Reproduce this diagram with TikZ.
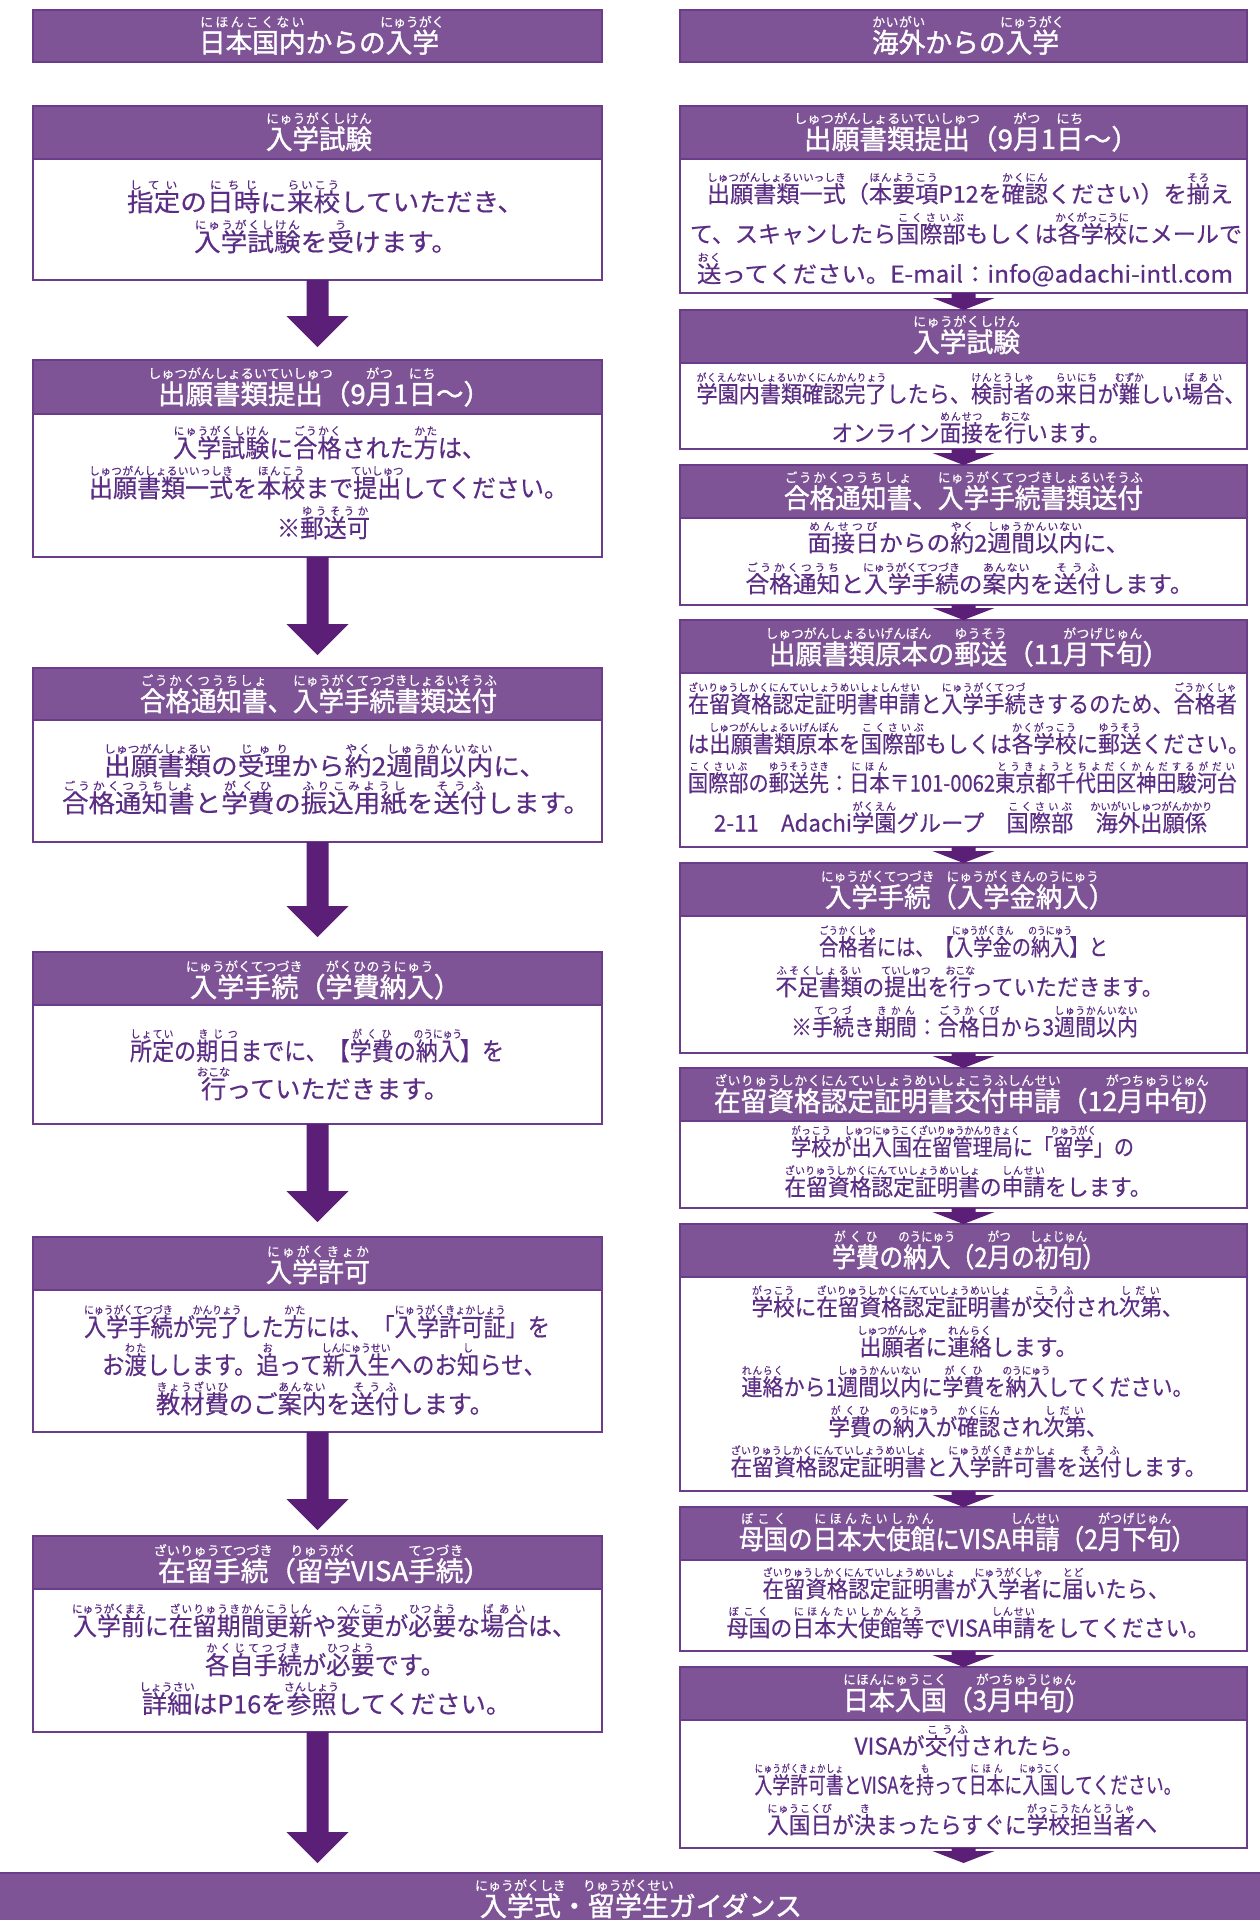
\documentclass[tikz,border=0pt]{standalone}
\usepackage{fontspec}
\usepackage{graphicx}
\setmainfont{Noto Sans CJK JP}[FakeBold=0.4, BoldFont=Noto Sans CJK JP, BoldFeatures={FakeBold=1.4}]
\usetikzlibrary{calc}
\definecolor{hdr}{HTML}{7F5497}
\definecolor{bdr}{HTML}{6B3C8A}
\definecolor{arr}{HTML}{5B1F78}
\definecolor{txt}{HTML}{5C2D84}
\newbox\rbbase \newbox\rbtop \newbox\fitbox
\def\rubysz{10}\def\rubyrs{0.9}
\def\rbend{}
\def\rbspread#1{\rbloop#1\rbend}
\def\rbloop#1{\ifx#1\rbend\else\hfil#1\hfil\expandafter\rbloop\fi}
\newcommand\rb[2]{\leavevmode\setbox\rbbase\hbox{#1}%
 \setbox\rbtop\hbox{\fontsize{\rubysz}{\rubysz}\selectfont\mdseries #2}%
 \ifdim\wd\rbtop<\wd\rbbase
 \setbox\rbtop\hbox to\wd\rbbase{\fontsize{\rubysz}{\rubysz}\selectfont\mdseries\rbspread{#2}}\fi
 \rlap{\raisebox{\rubyrs em}[0pt][0pt]{\hbox to\wd\rbbase{\hss\box\rbtop\hss}}}\box\rbbase}
\newcommand\fitline[2]{\setbox\fitbox\hbox{#2}\edef\fitw{\the\wd\fitbox}%
 \pgfmathsetmacro\fitr{#1/\fitw}\scalebox{\fitr}[1]{\box\fitbox}}
% x, ycenter, width, size, rubysize, rubyraise, colour, text
\newcommand\Tx[8]{\node[inner sep=0,outer sep=0,anchor=base,text=#7] at (#1,{#2+0.37*#4})
 {\fontsize{#4}{#4}\selectfont\def\rubysz{#5}\def\rubyrs{#6}\fitline{#3}{#8}};}
\newcommand\Hd[4]{\Tx{#1}{#2}{#3}{27}{13}{0.95}{white}{\bfseries #4}}
\newcommand\Bl[4]{\Tx{#1}{#2}{#3}{25}{11}{0.89}{txt}{#4}}
\newcommand\Br[4]{\Tx{#1}{#2}{#3}{23}{10.5}{0.92}{txt}{#4}}
\newcommand\PBox[6]{%
 \node[pbox,minimum width={#3-#2},minimum height={#6-#4}] (#1) at ({(#2+#3)/2},{(#4+#6)/2}) {};
 \node[phead,minimum width={#3-#2},minimum height={#5-#4}] (#1h) at ({(#2+#3)/2},{(#4+#5)/2}) {};}
% from, to, gap, headlen, stemhalf, headhalf
\newcommand\BArrow[6]{\fill[arr] let \p1=(#1.south), \p2=(#2.north) in
 (\x1-#5pt,\y1) -- (\x1-#5pt,\y2+#3pt+#4pt) -- (\x1-#6pt,\y2+#3pt+#4pt) -- (\x1,\y2+#3pt)
 -- (\x1+#6pt,\y2+#3pt+#4pt) -- (\x1+#5pt,\y2+#3pt+#4pt) -- (\x1+#5pt,\y1) -- cycle;}
\begin{document}
\begin{tikzpicture}[x=1pt,y=-1pt,
 pbox/.style={draw=bdr,line width=2pt,fill=white,inner sep=0,outer sep=0},
 phead/.style={draw=bdr,line width=2pt,fill=hdr,inner sep=0,outer sep=0}]
\useasboundingbox (0,0) rectangle (1259,1920);
% top headers
\node[phead,minimum width=569,minimum height=52] (LH) at (317.5,36) {};
\node[phead,minimum width=567,minimum height=52] (RH) at (963.5,36) {};
% boxes
\PBox{L1}{33}{602}{106}{159}{280}
\PBox{L2}{33}{602}{360}{414}{557}
\PBox{L3}{33}{602}{668}{720}{842}
\PBox{L4}{33}{602}{952}{1005}{1124}
\PBox{L5}{33}{602}{1237}{1290}{1432}
\PBox{L6}{33}{602}{1536}{1589}{1732}
\PBox{R1}{680}{1247}{106}{159}{293}
\PBox{R2}{680}{1247}{310}{363}{449}
\PBox{R3}{680}{1247}{465}{518}{605}
\PBox{R4}{680}{1247}{620}{673}{847}
\PBox{R5}{680}{1247}{863}{916}{1053}
\PBox{R6}{680}{1247}{1068}{1121}{1208}
\PBox{R7}{680}{1247}{1224}{1277}{1491}
\PBox{R8}{680}{1247}{1507}{1560}{1651}
\PBox{R9}{680}{1247}{1667}{1720}{1848}
\node[phead,minimum width=1265,minimum height=50] (B) at (629.5,1898) {};
% arrows
\BArrow{L1}{L2}{13}{31}{11}{31}
\BArrow{L2}{L3}{13}{31}{11}{31}
\BArrow{L3}{L4}{15}{31}{11}{31}
\BArrow{L4}{L5}{15}{31}{11}{31}
\BArrow{L5}{L6}{6}{31}{11}{31}
\BArrow{L6}{B}{10}{31}{11}{31}
\BArrow{R1}{R2}{0}{12}{12}{31}
\BArrow{R2}{R3}{0}{12}{12}{31}
\BArrow{R3}{R4}{0}{12}{12}{31}
\BArrow{R4}{R5}{0}{12}{12}{31}
\BArrow{R5}{R6}{0}{12}{12}{31}
\BArrow{R6}{R7}{0}{12}{12}{31}
\BArrow{R7}{R8}{0}{12}{12}{31}
\BArrow{R8}{R9}{0}{12}{12}{31}
\BArrow{R9}{B}{10}{12}{12}{31}
% ---- left column texts
\Hd{319}{42.5}{240}{\rb{日本国内}{にほんこくない}からの\rb{入学}{にゅうがく}}
\Hd{965.5}{42.5}{187}{\rb{海外}{かいがい}からの\rb{入学}{にゅうがく}}
\Hd{319}{139}{106}{\rb{入学試験}{にゅうがくしけん}}
\Bl{325.5}{202}{397}{\rb{指定}{してい}の\rb{日時}{にちじ}に\rb{来校}{らいこう}していただき、}
\Bl{326}{242}{264}{\rb{入学試験}{にゅうがくしけん}を\rb{受}{う}けます。}
\Hd{324.5}{394}{333}{\rb{出願書類提出}{しゅつがんしょるいていしゅつ}（9\rb{月}{がつ}1\rb{日}{にち}〜）}
\Bl{329.5}{448}{313}{\rb{入学試験}{にゅうがくしけん}に\rb{合格}{ごうかく}された\rb{方}{かた}は、}
\Bl{328.5}{488}{479}{\rb{出願書類一式}{しゅつがんしょるいいっしき}を\rb{本校}{ほんこう}まで\rb{提出}{ていしゅつ}してください。}
\Bl{323.5}{528}{93}{※\rb{郵送可}{ゆうそうか}}
\Hd{318.5}{701}{357}{\rb{合格通知書}{ごうかくつうちしょ}、\rb{入学手続書類送付}{にゅうがくてつづきしょるいそうふ}}
\Bl{325}{766}{442}{\rb{出願書類}{しゅつがんしょるい}の\rb{受理}{じゅり}から\rb{約}{やく}2\rb{週間以内}{しゅうかんいない}に、}
\Bl{326}{803}{528}{\rb{合格通知書}{ごうかくつうちしょ}と\rb{学費}{がくひ}の\rb{振込用紙}{ふりこみようし}を\rb{送付}{そうふ}します。}
\Hd{325.5}{987}{271}{\rb{入学手続}{にゅうがくてつづき}（\rb{学費納入}{がくひのうにゅう}）}
\Bl{317}{1051}{374}{\rb{所定}{しょてい}の\rb{期日}{きじつ}までに、【\rb{学費}{がくひ}の\rb{納入}{のうにゅう}】を}
\Bl{325}{1089}{248}{\rb{行}{おこな}っていただきます。}
\Hd{318}{1272}{104}{\rb{入学許可}{にゅがくきょか}}
\Bl{317}{1327}{466}{\rb{入学手続}{にゅうがくてつづき}が\rb{完了}{かんりょう}した\rb{方}{かた}には、「\rb{入学許可証}{にゅうがくきょかしょう}」を}
\Bl{324}{1365}{444}{お\rb{渡}{わた}しします。\rb{追}{お}って\rb{新入生}{しんにゅうせい}へのお\rb{知}{し}らせ、}
\Bl{325}{1404}{338}{\rb{教材費}{きょうざいひ}のご\rb{案内}{あんない}を\rb{送付}{そうふ}します。}
\Hd{324.5}{1571}{333}{\rb{在留手続}{ざいりゅうてつづき}（\rb{留学}{りゅうがく}VISA\rb{手続}{てつづき}）}
\Bl{324.5}{1626}{503}{\rb{入学前}{にゅうがくまえ}に\rb{在留期間更新}{ざいりゅうきかんこうしん}や\rb{変更}{へんこう}が\rb{必要}{ひつよう}な\rb{場合}{ばあい}は、}
\Bl{325}{1665}{240}{\rb{各自手続}{かくじてつづき}が\rb{必要}{ひつよう}です。}
\Bl{326.5}{1704}{369}{\rb{詳細}{しょうさい}はP16を\rb{参照}{さんしょう}してください。}
\Hd{641}{1906}{322}{\rb{入学式}{にゅうがくしき}・\rb{留学生}{りゅうがくせい}ガイダンス}
% ---- right column texts
\Hd{971.5}{139}{335}{\rb{出願書類提出}{しゅつがんしょるいていしゅつ}（9\rb{月}{がつ}1\rb{日}{にち}〜）}
\Br{970}{194}{526}{\rb{出願書類一式}{しゅつがんしょるいいっしき}（\rb{本要項}{ほんようこう}P12を\rb{確認}{かくにん}ください）を\rb{揃}{そろ}え}
\Br{966}{234}{552}{て、スキャンしたら\rb{国際部}{こくさいぶ}もしくは\rb{各学校}{かくがっこうに}にメールで}
\Br{965}{274}{536}{\rb{送}{おく}ってください。E-mail：info@adachi-intl.com}
\Hd{966.5}{342}{107}{\rb{入学試験}{にゅうがくしけん}}
\Br{971}{394}{549}{\rb{学園内書類確認完了}{がくえんないしょるいかくにんかんりょう}したら、\rb{検討者}{けんとうしゃ}の\rb{来日}{らいにち}が\rb{難}{むずか}しい\rb{場合}{ばあい}、}
\Br{971}{433}{279}{オンライン\rb{面接}{めんせつ}を\rb{行}{おこな}います。}
\Hd{963.5}{498}{359}{\rb{合格通知書}{ごうかくつうちしょ}、\rb{入学手続書類送付}{にゅうがくてつづきしょるいそうふ}}
\Br{968.5}{543}{322}{\rb{面接日}{めんせつび}からの\rb{約}{やく}2\rb{週間以内}{しゅうかんいない}に、}
\Br{969.5}{584}{448}{\rb{合格通知}{ごうかくつうち}と\rb{入学手続}{にゅうがくてつづき}の\rb{案内}{あんない}を\rb{送付}{そうふ}します。}
\Hd{969}{654}{400}{\rb{出願書類原本}{しゅつがんしょるいげんぽん}の\rb{郵送}{ゆうそう}（11\rb{月下旬}{がつげじゅん}）}
\Br{962.5}{704}{549}{\rb{在留資格認定証明書申請}{ざいりゅうしかくにんていしょうめいしょしんせい}と\rb{入学手続}{にゅうがくてつづ}きするのため、\rb{合格者}{ごうかくしゃ}}
\Br{968.5}{744}{562}{は\rb{出願書類原本}{しゅつがんしょるいげんぽん}を\rb{国際部}{こくさいぶ}もしくは\rb{各学校}{かくがっこう}に\rb{郵送}{ゆうそう}ください。}
\Br{962.5}{783}{549}{\rb{国際部}{こくさいぶ}の\rb{郵送先}{ゆうそうさき}：\rb{日本}{にほん}〒101-0062\rb{東京都千代田区神田駿河台}{とうきょうとちよだくかんだするがだい}}
\Br{960.5}{823}{493}{2-11　Adachi\rb{学園}{がくえん}グループ　\rb{国際部}{こくさいぶ}　\rb{海外出願係}{かいがいしゅつがんかかり}}
\Hd{970}{897}{290}{\rb{入学手続}{にゅうがくてつづき}（\rb{入学金納入}{にゅうがくきんのうにゅう}）}
\Br{963.5}{947}{289}{\rb{合格者}{ごうかくしゃ}には、【\rb{入学金}{にゅうがくきん}の\rb{納入}{のうにゅう}】と}
\Br{969.5}{987}{388}{\rb{不足書類}{ふそくしょるい}の\rb{提出}{ていしゅつ}を\rb{行}{おこな}っていただきます。}
\Br{964.5}{1027}{347}{※\rb{手続}{てつづ}き\rb{期間}{きかん}：\rb{合格日}{ごうかくび}から3\rb{週間以内}{しゅうかんいない}}
\Hd{969}{1101}{510}{\rb{在留資格認定証明書交付申請}{ざいりゅうしかくにんていしょうめいしょこうふしんせい}（12\rb{月中旬}{がつちゅうじゅん}）}
\Br{962.5}{1147}{343}{\rb{学校}{がっこう}が\rb{出入国在留管理局}{しゅつにゅうこくざいりゅうかんりきょく}に「\rb{留学}{りゅうがく}」の}
\Br{968}{1187}{367}{\rb{在留資格認定証明書}{ざいりゅうしかくにんていしょうめいしょ}の\rb{申請}{しんせい}をします。}
\Hd{969}{1257}{274}{\rb{学費}{がくひ}の\rb{納入}{のうにゅう}（2\rb{月}{がつ}の\rb{初旬}{しょじゅん}）}
\Br{967.5}{1307}{432}{\rb{学校}{がっこう}に\rb{在留資格認定証明書}{ざいりゅうしかくにんていしょうめいしょ}が\rb{交付}{こうふ}され\rb{次第}{しだい}、}
\Br{968.5}{1347}{218}{\rb{出願者}{しゅつがんしゃ}に\rb{連絡}{れんらく}します。}
\Br{967.5}{1387}{452}{\rb{連絡}{れんらく}から1\rb{週間以内}{しゅうかんいない}に\rb{学費}{がくひ}を\rb{納入}{のうにゅう}してください。}
\Br{968}{1427}{279}{\rb{学費}{がくひ}の\rb{納入}{のうにゅう}が\rb{確認}{かくにん}され\rb{次第}{しだい}、}
\Br{968.5}{1467}{476}{\rb{在留資格認定証明書}{ざいりゅうしかくにんていしょうめいしょ}と\rb{入学許可書}{にゅうがくきょかしょ}を\rb{送付}{そうふ}します。}
\Hd{967.5}{1539}{457}{\rb{母国}{ぼこく}の\rb{日本大使館}{にほんたいしかん}にVISA\rb{申請}{しんせい}（2\rb{月下旬}{がつげじゅん}）}
\Br{966}{1589}{407}{\rb{在留資格認定証明書}{ざいりゅうしかくにんていしょうめいしょ}が\rb{入学者}{にゅうがくしゃ}に\rb{届}{とど}いたら、}
\Br{968}{1628}{483}{\rb{母国}{ぼこく}の\rb{日本大使館等}{にほんたいしかんとう}でVISA\rb{申請}{しんせい}をしてください。}
\Hd{967}{1700}{248}{\rb{日本入国}{にほんにゅうこく}（3\rb{月中旬}{がつちゅうじゅん}）}
\Br{969.5}{1746}{230}{VISAが\rb{交付}{こうふ}されたら。}
\Br{968}{1785}{427}{\rb{入学許可書}{にゅうがくきょかしょ}とVISAを\rb{持}{も}って\rb{日本}{にほん}に\rb{入国}{にゅうこく}してください。}
\Br{962}{1825}{390}{\rb{入国日}{にゅうこくび}が\rb{決}{き}まったらすぐに\rb{学校担当者}{がっこうたんとうしゃ}へ}
\end{tikzpicture}
\end{document}
